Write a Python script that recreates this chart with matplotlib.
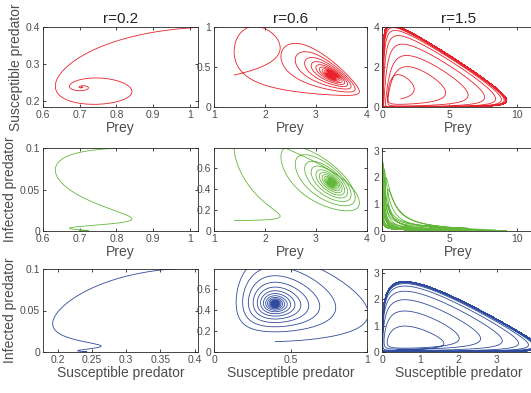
import numpy as np
import matplotlib
matplotlib.use("Agg")
import matplotlib.pyplot as plt

r_values = [0.2, 0.6, 1.5]                 # prey growth rate in each column
start_prey = [1.131, 1.4, 1.4]
start_susceptible = [0.4, 0.4, 0.4]
start_infected = [0.1, 0.1, 0.1]
eq_prey = [0.705, 3.3, 2.3511]             # equilibrium read from the spirals
eq_susceptible = [0.238, 0.4, 0.5964]
eq_infected = [0.0, 0.46, 0.6429]
capacity = [3.0463, 4.2954, 11.564]
half_saturation = [9.5956, 1.3875, 16.5344]
death_susceptible = [0.13354, 0.0146, 0.0478]
crowding = [0.229, 0.0, 0.0]
transmission = [0.55081, 0.4612, 1.3819]
attack_ratio = [0.0342, 0.1852, 0.5452]
death_infected_ratio = [0.3895, 0.4, 0.5964]
sim_time = [400.0, 1500.0, 1300.0]
time_step = [0.02, 0.01, 0.01]

colors = ['#e8212a', '#63b83c', '#2f4b9e']
xlims = [[(0.6, 1.022), (1, 4), (0, 11.35)],
         [(0.6, 1.022), (1, 4), (0, 11.35)],
         [(0.178, 0.405), (0, 1), (0, 4)]]
ylims = [[(0.185, 0.4), (0, 1), (0, 4)],
         [(0, 0.1), (0, 0.79), (0, 3.1)],
         [(0, 0.1), (0, 0.79), (0, 3.15)]]
xticks = [[[0.6, 0.7, 0.8, 0.9, 1], [1, 2, 3, 4], [0, 5, 10]],
          [[0.6, 0.7, 0.8, 0.9, 1], [1, 2, 3, 4], [0, 5, 10]],
          [[0.2, 0.25, 0.3, 0.35, 0.4], [0, 0.5, 1], [0, 1, 2, 3, 4]]]
yticks = [[[0.2, 0.3, 0.4], [0, 0.5, 1], [0, 2, 4]],
          [[0, 0.05, 0.1], [0, 0.2, 0.4, 0.6], [0, 1, 2, 3]],
          [[0, 0.05, 0.1], [0, 0.2, 0.4, 0.6], [0, 1, 2, 3]]]
xlabels = ['Prey', 'Prey', 'Susceptible predator']
ylabels = ['Susceptible predator', 'Infected predator', 'Infected predator']


def parameters(k):
    g, K, b = r_values[k], capacity[k], half_saturation[k]
    d, e, be = death_susceptible[k], crowding[k], transmission[k]
    xe, se, ie = eq_prey[k], eq_susceptible[k], eq_infected[k]
    c = (d + e * se + be * ie) * (b + xe) / xe
    a = g * (1 - xe / K) * (b + xe) / (se + attack_ratio[k] * ie)
    a2 = attack_ratio[k] * a
    m = death_infected_ratio[k] * be
    return g, K, b, a, a2, c, d, e, be, m


def simulate(k):
    g, K, b, a, a2, c, d, e, be, m = parameters(k)

    def f(x, S, I):
        fr = 1.0 / (b + x)
        return (g * x * (1 - x / K) - x * fr * (a * S + a2 * I),
                S * (c * x * fr - d - e * S - be * I),
                I * (be * S - m))

    dt = time_step[k]
    n = int(sim_time[k] / dt)
    x, S, I = start_prey[k], start_susceptible[k], start_infected[k]
    xs = np.empty(n + 1); ss = np.empty(n + 1); is_ = np.empty(n + 1)
    xs[0], ss[0], is_[0] = x, S, I
    h2 = dt / 2; h6 = dt / 6
    for i in range(n):
        a1, b1, c1 = f(x, S, I)
        a2_, b2, c2 = f(x + h2 * a1, S + h2 * b1, I + h2 * c1)
        a3, b3, c3 = f(x + h2 * a2_, S + h2 * b2, I + h2 * c2)
        a4, b4, c4 = f(x + dt * a3, S + dt * b3, I + dt * c3)
        x += h6 * (a1 + 2 * a2_ + 2 * a3 + a4)
        S += h6 * (b1 + 2 * b2 + 2 * b3 + b4)
        I += h6 * (c1 + 2 * c2 + 2 * c3 + c4)
        xs[i + 1], ss[i + 1], is_[i + 1] = x, S, I
    return xs, ss, is_


plt.rcParams['font.family'] = ['Liberation Sans', 'DejaVu Sans']
fig = plt.figure(figsize=(5.31, 3.93), dpi=100)
W, H = 531.0, 393.0
col_px = [(43, 198), (214, 367), (382, 535)]
row_px = [(27, 107), (148, 231), (269, 352)]

traj = [simulate(k) for k in range(3)]
pairs = [(0, 1), (0, 2), (1, 2)]

for row in range(3):
    for col in range(3):
        x0p, x1p = col_px[col]
        y0p, y1p = row_px[row]
        ax = fig.add_axes([x0p / W, 1 - y1p / H, (x1p - x0p) / W, (y1p - y0p) / H])
        data = traj[col]
        i, j = pairs[row]
        ax.plot(data[i], data[j], color=colors[row], lw=0.6)
        ax.set_xlim(*xlims[row][col])
        ax.set_ylim(*ylims[row][col])
        ax.set_xticks(xticks[row][col])
        ax.set_yticks(yticks[row][col])
        ax.set_xticklabels([f"{v:g}" for v in xticks[row][col]])
        ax.set_yticklabels([f"{v:g}" for v in yticks[row][col]])
        ax.tick_params(direction='in', length=2.5, width=0.6, labelsize=7.5,
                       top=True, right=True, colors='#262626', labelcolor='#4d4d4d', pad=2)
        for sp in ax.spines.values():
            sp.set_color('#262626')
            sp.set_linewidth(0.6)
        ax.set_xlabel(xlabels[row], fontsize=10, color='#4d4d4d', labelpad=1)
        if col == 0:
            ax.set_ylabel(ylabels[row], fontsize=10, color='#4d4d4d', labelpad=2)
        if row == 0:
            ax.set_title(f"r={r_values[col]:g}", fontsize=11, color='#262626', pad=3)

fig.savefig("out.png", dpi=100)
